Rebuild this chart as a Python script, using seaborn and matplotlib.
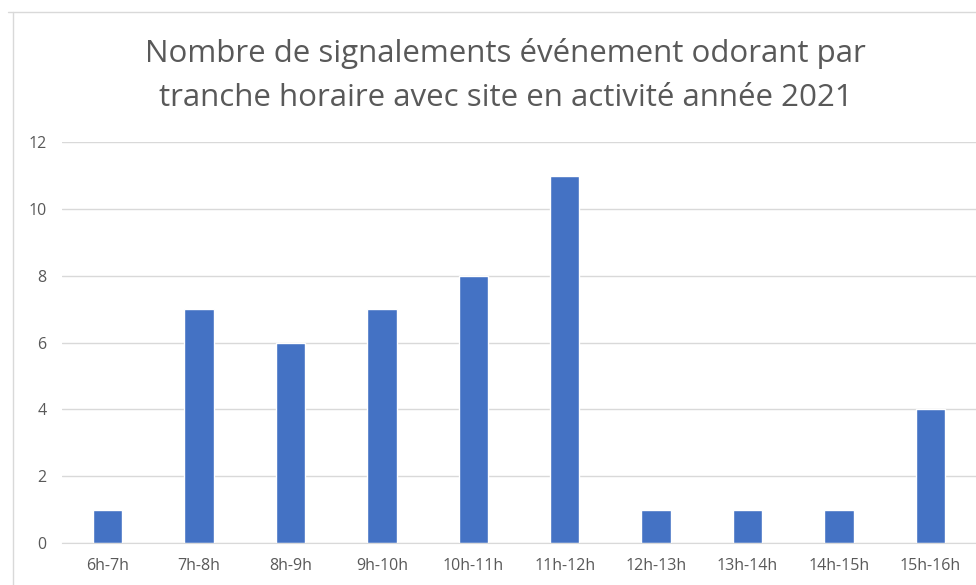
import matplotlib
matplotlib.use('Agg')
import matplotlib.pyplot as plt
import seaborn as sns
import pandas as pd
from matplotlib.lines import Line2D

tranches = ["6h-7h", "7h-8h", "8h-9h", "9h-10h", "10h-11h",
            "11h-12h", "12h-13h", "13h-14h", "14h-15h", "15h-16h"]
signalements = [1, 7, 6, 7, 8, 11, 1, 1, 1, 4]
y_ticks = [0, 2, 4, 6, 8, 10, 12]

df = pd.DataFrame({"tranche": tranches, "n": signalements})

sns.set_style("white")
plt.rcParams['font.family'] = ['Open Sans', 'DejaVu Sans']

fig = plt.figure(figsize=(9.76, 5.85), dpi=100)
ax = fig.add_axes([0.0635, 0.0718, 0.9365, 0.6852])

sns.barplot(data=df, x="tranche", y="n", color="#4472C4", saturation=1,
            width=0.32, ax=ax)

ax.set_ylim(0, 12)
ax.set_xlim(-0.5, len(tranches) - 0.5)
ax.set_yticks(y_ticks)
ax.set_yticklabels([str(t) for t in y_ticks])
ax.yaxis.grid(True, color="#D9D9D9", linewidth=1)
ax.set_axisbelow(True)
for s in ["top", "right", "left"]:
    ax.spines[s].set_visible(False)
ax.spines["bottom"].set_color("#D9D9D9")
ax.tick_params(axis="both", length=0, colors="#595959", labelsize=11.5)
ax.tick_params(axis="y", pad=11)
ax.tick_params(axis="x", pad=11)
ax.set_xlabel("")
ax.set_ylabel("")

fig.text(0.518, 0.908, "Nombre de signalements événement odorant par",
         ha="center", va="center", fontsize=22.5, color="#595959")
fig.text(0.518, 0.832, "tranche horaire avec site en activité année 2021",
         ha="center", va="center", fontsize=22.5, color="#595959")

# frame lines of the screenshot
fig.add_artist(Line2D([0.008, 1], [1 - 12 / 585, 1 - 12 / 585],
                      transform=fig.transFigure, color="#D9D9D9", linewidth=1))
fig.add_artist(Line2D([13 / 976, 13 / 976], [0, 1 - 12 / 585],
                      transform=fig.transFigure, color="#D9D9D9", linewidth=1))

fig.savefig("out.png", dpi=100)
plt.close(fig)
